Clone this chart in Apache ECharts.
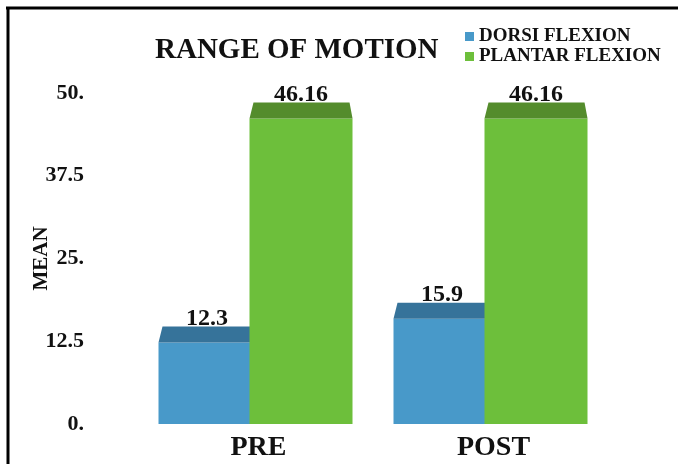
<!DOCTYPE html>
<html>
<head>
<meta charset="utf-8">
<script src="https://cdn.jsdelivr.net/npm/echarts@6/dist/echarts.min.js"></script>
<style>
  html, body { margin: 0; padding: 0; background: #fff; }
  #main { width: 678px; height: 464px; }
</style>
</head>
<body>
<div id="main"></div>
<script>
// range of motion, pre vs post
var categories = ['PRE', 'POST'];
var dorsiFlexion = [12.3, 15.9];
var plantarFlexion = [46.16, 46.16];
var yTicks = [0, 12.5, 25, 37.5, 50];

var serif = '"Liberation Serif", "Times New Roman", serif';

// front face + sloped top face, drawn from the axis coords
let boxBar = (left, right, front, top) => {
  return function (params, api) {
    var base = api.coord([api.value(0), 0]);
    var peak = api.coord([api.value(0), api.value(1)]);
    var c = base[0];
    var l = c + left, r = c + right;
    var d = 16;
    return {
      type: 'group',
      children: [
        {
          type: 'rect',
          shape: { x: l, y: peak[1], width: r - l, height: base[1] - peak[1] },
          style: { fill: front }
        },
        {
          type: 'polygon',
          shape: { points: [[l, peak[1]], [l + 4, peak[1] - d], [r - 3, peak[1] - d], [r, peak[1]]] },
          style: { fill: top }
        },
        {
          type: 'text',
          style: {
            text: String(api.value(1)),
            x: (l + r) / 2,
            y: peak[1] - d + 4,
            align: 'center',
            verticalAlign: 'bottom',
            font: 'bold 24px ' + serif,
            fill: '#111'
          }
        }
      ]
    };
  };
};

var chart = echarts.init(document.getElementById('main'));
chart.setOption({
  animation: false,
  title: {
    text: 'RANGE OF MOTION',
    left: 150,
    top: 31,
    textStyle: { fontFamily: serif, fontWeight: 'bold', fontSize: 29, color: '#111' }
  },
  legend: {
    orient: 'vertical',
    left: 460,
    top: 22,
    itemWidth: 9,
    itemHeight: 9,
    itemGap: 1,
    icon: 'rect',
    textStyle: { fontFamily: serif, fontWeight: 'bold', fontSize: 19, color: '#111' },
    data: ['DORSI FLEXION', 'PLANTAR FLEXION']
  },
  grid: { left: 135, right: 73, top: 93, bottom: 40 },
  xAxis: {
    type: 'category',
    data: categories,
    axisLine: { show: false },
    axisTick: { show: false },
    axisLabel: {
      fontFamily: serif, fontWeight: 'bold', fontSize: 28, color: '#111', margin: 10,
      padding: [0, 0, 0, 12]
    }
  },
  yAxis: {
    type: 'value',
    min: yTicks[0],
    max: yTicks[yTicks.length - 1],
    interval: 12.5,
    name: 'MEAN',
    nameLocation: 'middle',
    nameGap: 83,
    nameMoveOverlap: false,
    nameTextStyle: { fontFamily: serif, fontWeight: 'bold', fontSize: 21, color: '#111' },
    splitLine: { show: false },
    axisLine: { show: false },
    axisTick: { show: false },
    axisLabel: {
      fontFamily: serif, fontWeight: 'bold', fontSize: 22, color: '#111',
      margin: 51,
      formatter: function (v) { return v % 1 === 0 ? v + '.' : String(v); }
    }
  },
  series: [
    {
      name: 'DORSI FLEXION',
      type: 'custom',
      itemStyle: { color: '#4899c9' },
      renderItem: boxBar(-94, 3, '#4899c9', '#36739a'),
      data: dorsiFlexion.map(function (v, i) { return [i, v]; })
    },
    {
      name: 'PLANTAR FLEXION',
      type: 'custom',
      itemStyle: { color: '#6dbf3b' },
      renderItem: boxBar(-3, 100, '#6dbf3b', '#548c2c'),
      data: plantarFlexion.map(function (v, i) { return [i, v]; })
    }
  ],
  graphic: [
    { type: 'line', shape: { x1: 6, y1: 8, x2: 678, y2: 8 }, style: { stroke: '#000', lineWidth: 3 } },
    { type: 'line', shape: { x1: 8, y1: 7, x2: 8, y2: 464 }, style: { stroke: '#000', lineWidth: 3 } }
  ]
});
</script>
</body>
</html>
